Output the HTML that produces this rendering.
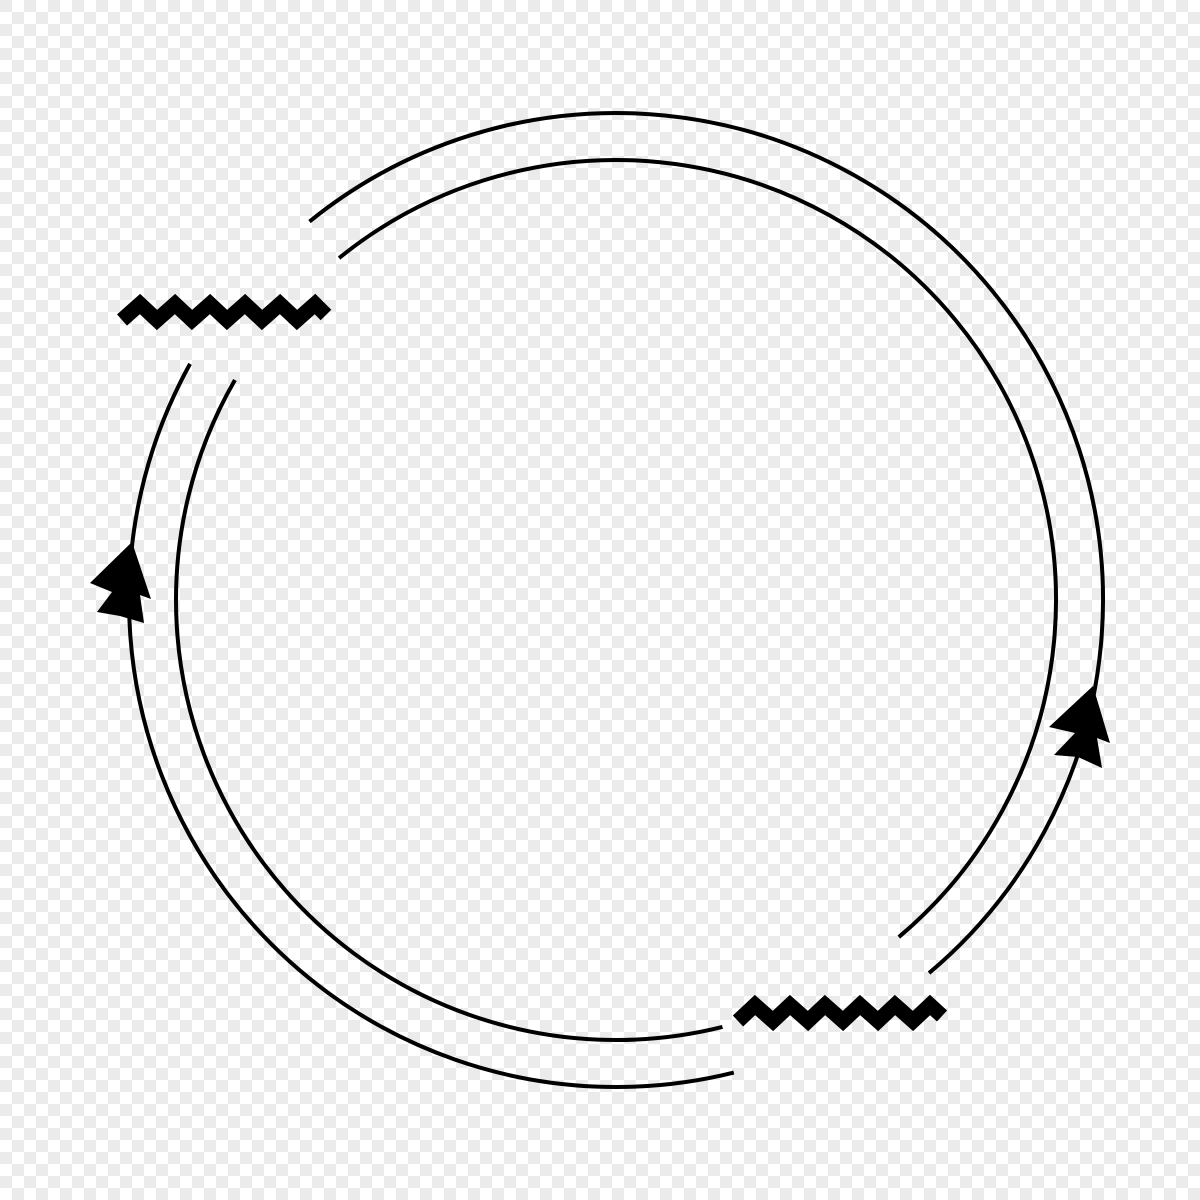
<!DOCTYPE html>
<html><head><meta charset="utf-8"><style>
html,body{margin:0;padding:0;width:1200px;height:1200px;overflow:hidden}
body{background-color:#fff;background-image:linear-gradient(45deg,#ebebeb 25%,transparent 25%,transparent 75%,#ebebeb 75%),linear-gradient(45deg,#ebebeb 25%,transparent 25%,transparent 75%,#ebebeb 75%);background-size:24px 24px;background-position:12px 0,0 12px}
</style></head><body>
<svg width="1200" height="1200">
<g fill="none" stroke="#000" stroke-width="4">
<path id="outer-top"/>
<path id="outer-bot"/>
<path id="inner-top"/>
<path id="inner-bot"/>
<polyline stroke-width="15" stroke-linejoin="miter" points="122,320 140,304 157,320 175,304 192,320 210,304 227,320 245,304 262,320 280,304 297,320 315,304 326,315"/>
<polyline stroke-width="15" stroke-linejoin="miter" points="738,1021 755,1005 773,1021 790,1005 808,1021 825,1005 843,1021 860,1005 878,1021 895,1005 913,1021 930,1005 942,1016"/>
</g>
<polygon fill="#000" points="132,542 151,599 140,595 144,623 120,616 97,612 112,592 90,583"/>
<polygon fill="#000" points="1093,686 1110,743 1097,738 1102,768 1078,757 1054,755 1075,733 1049,727"/>
</svg>
<script>
const cx=616,cy=600;
function arc(r,a0,a1){const t=a=>a*Math.PI/180;const x0=cx+r*Math.cos(t(a0)),y0=cy+r*Math.sin(t(a0)),x1=cx+r*Math.cos(t(a1)),y1=cy+r*Math.sin(t(a1));const large=(a1-a0)>180?1:0;return `M${x0},${y0}A${r},${r} 0 ${large} 1 ${x1},${y1}`;}
document.getElementById('outer-top').setAttribute('d',arc(487,-129,50));
document.getElementById('outer-bot').setAttribute('d',arc(487,76,209));
document.getElementById('inner-top').setAttribute('d',arc(440,-129,50));
document.getElementById('inner-bot').setAttribute('d',arc(440,76,210));
</script>
</body></html>
